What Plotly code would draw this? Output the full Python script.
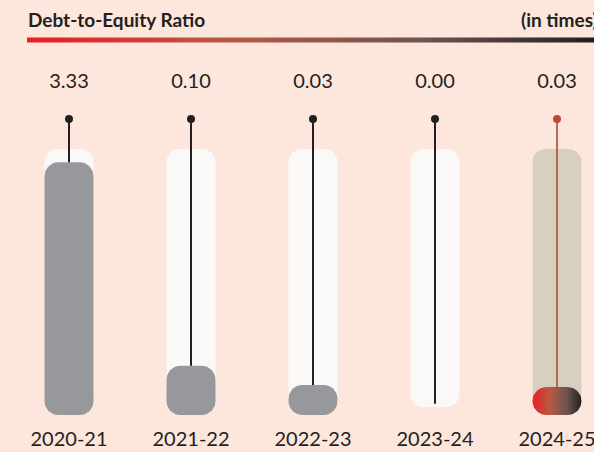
import numpy as np
import plotly.graph_objects as go

# ---------------- data ----------------
years = ["2020-21", "2021-22", "2022-23", "2023-24", "2024-25"]
ratio = [3.33, 0.10, 0.03, 0.00, 0.03]
ratio_labels = [f"{v:.2f}" for v in ratio]
# displayed bar height as a fraction of the track
bar_level = [0.95, 0.185, 0.113, 0.0, 0.105]
highlight = [False, False, False, False, True]

title = "Debt-to-Equity Ratio"
unit = "(in times)"

# ---------------- geometry / style ----------------
W, H = 594, 452
X_STEP = 122      # px per category
X0 = 69           # px of first category centre
Y_UNIT = 266      # px per unit of level
Y_BASE = 415      # px (from top) of level 0

BG = "#FDE6DC"
TRACK = "#FBF9F7"
TRACK_HI = "#D8D0BF"
BAR = "#97989B"
INK = "#231F20"
STEM_HI = "#B46A58"
DOT_HI = "#B8493B"
GRAD = [[0, "#EC1C24"], [0.35, "#B85A44"], [0.7, "#6E5450"], [1, "#231F20"]]

xr = [-X0 / X_STEP, (W - X0) / X_STEP]
yr = [-(H - Y_BASE) / Y_UNIT, -(H - Y_BASE) / Y_UNIT + H / Y_UNIT]


def rrect(cx, y0, y1, hw_px=24.5, r_px=13):
    hw = hw_px / X_STEP
    r = min(r_px, hw_px, (y1 - y0) * Y_UNIT / 2)
    rx, ry = r / X_STEP, r / Y_UNIT
    xs, ys = [], []
    centres = [(cx + hw - rx, y1 - ry, 0), (cx - hw + rx, y1 - ry, 90),
               (cx - hw + rx, y0 + ry, 180), (cx + hw - rx, y0 + ry, 270)]
    for ccx, ccy, a0 in centres:
        t = np.radians(np.linspace(a0, a0 + 90, 12))
        xs += list(ccx + rx * np.cos(t))
        ys += list(ccy + ry * np.sin(t))
    xs.append(xs[0]); ys.append(ys[0])
    return xs, ys


fig = go.Figure()
idx = list(range(len(years)))
TRACK_BOTTOM = 0.03
TRACK_TOP = 1.0
DOT_LEVEL = 1.113
VAL_LEVEL = 1.248
CAT_LEVEL = -0.097

# tracks
for i in idx:
    xs, ys = rrect(i, TRACK_BOTTOM, TRACK_TOP, r_px=13)
    fig.add_trace(go.Scatter(x=xs, y=ys, mode="lines", fill="toself",
                             line=dict(width=0), fillcolor=TRACK_HI if highlight[i] else TRACK,
                             hoverinfo="skip", showlegend=False))

# bars
for i in idx:
    if bar_level[i] <= 0:
        continue
    xs, ys = rrect(i, 0, bar_level[i], r_px=14)
    kw = dict(fillcolor=BAR)
    if highlight[i]:
        kw = dict(fillgradient=dict(type="horizontal", colorscale=GRAD))
    fig.add_trace(go.Scatter(x=xs, y=ys, mode="lines", fill="toself",
                             line=dict(width=0), hoverinfo="skip", showlegend=False, **kw))

# stems + dots
for i in idx:
    y_end = max(bar_level[i], 0.042)
    col = STEM_HI if highlight[i] else INK
    fig.add_trace(go.Scatter(x=[i, i], y=[y_end, DOT_LEVEL], mode="lines",
                             line=dict(color=col, width=2), hoverinfo="skip", showlegend=False))
    fig.add_trace(go.Scatter(x=[i], y=[DOT_LEVEL], mode="markers",
                             marker=dict(color=DOT_HI if highlight[i] else INK, size=8),
                             hoverinfo="skip", showlegend=False))

# value labels
fig.add_trace(go.Scatter(x=idx, y=[VAL_LEVEL] * len(idx), mode="text", text=ratio_labels,
                         textfont=dict(family="Lato", size=20, color=INK),
                         hoverinfo="skip", showlegend=False))
# category labels
fig.add_trace(go.Scatter(x=idx, y=[CAT_LEVEL] * len(idx), mode="text", text=years,
                         textfont=dict(family="Lato", size=20, color=INK),
                         hoverinfo="skip", showlegend=False))

# title rule (gradient) on overlay axes in paper-like units
fig.add_trace(go.Scatter(x=[27 / W, 1, 1, 27 / W, 27 / W],
                         y=[1 - 37.5 / H, 1 - 37.5 / H, 1 - 42.5 / H, 1 - 42.5 / H, 1 - 37.5 / H],
                         xaxis="x2", yaxis="y2", mode="lines", fill="toself", line=dict(width=0),
                         fillgradient=dict(type="horizontal", colorscale=GRAD),
                         hoverinfo="skip", showlegend=False))

fig.add_annotation(text=f"<b>{title}</b>", xref="paper", yref="paper", x=26 / W, y=1 - 20 / H,
                   xanchor="left", yanchor="middle", showarrow=False,
                   font=dict(family="Lato", size=19, color=INK))
fig.add_annotation(text=f"<b>{unit}</b>", xref="paper", yref="paper", x=600 / W, y=1 - 20 / H,
                   xanchor="right", yanchor="middle", showarrow=False,
                   font=dict(family="Lato", size=19, color=INK))

fig.update_layout(
    width=W, height=H, margin=dict(l=0, r=0, t=0, b=0),
    paper_bgcolor=BG, plot_bgcolor=BG,
    xaxis=dict(range=xr, visible=False, fixedrange=True),
    yaxis=dict(range=yr, visible=False, fixedrange=True),
    xaxis2=dict(range=[0, 1], visible=False, overlaying="x", fixedrange=True),
    yaxis2=dict(range=[0, 1], visible=False, overlaying="y", fixedrange=True),
    hovermode=False,
)

fig.write_html("out.html", config=dict(displayModeBar=False),
               post_script="document.body.style.margin='0';document.body.style.background='" + BG + "';")
